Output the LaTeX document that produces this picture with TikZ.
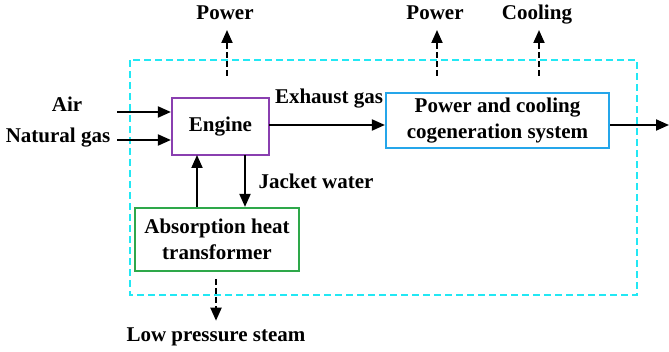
\documentclass[tikz,border=0pt]{standalone}
\usepackage{fontspec}
\setmainfont{Liberation Serif}
\usetikzlibrary{arrows.meta, positioning}
\definecolor{bndcyan}{HTML}{22E8F4}
\definecolor{engpurple}{HTML}{8A3FB0}
\definecolor{pccblue}{HTML}{25A6EA}
\definecolor{ahtgreen}{HTML}{2EA84A}
\tikzset{
  blk/.style={draw, line width=2.2pt, align=center, inner sep=0pt,
    font=\fontsize{21}{25.5}\selectfont\bfseries},
  lbl/.style={font=\fontsize{21}{25}\selectfont\bfseries, inner sep=0pt},
  flow/.style={-{Triangle[length=13pt, width=11pt]}, line width=2pt},
  prod/.style={flow, dash pattern=on 6pt off 3pt},
}

\begin{document}
\begin{tikzpicture}[x=1pt, y=-1pt]
  \useasboundingbox (0,0) rectangle (669,352);
  % system boundary
  \draw[bndcyan, line width=1.8pt, dash pattern=on 7pt off 4pt] (130,60) rectangle (637,295);
  % components
  \node[blk, draw=engpurple, minimum width=97pt, minimum height=57pt] (engine) at (220.5,126.5) {Engine};
  \node[blk, draw=pccblue, minimum width=223pt, minimum height=55pt] (pcc) at (497.5,120.5) {Power and cooling\\cogeneration system};
  \node[blk, draw=ahtgreen, minimum width=164pt, minimum height=63pt] (aht) at (217,239.5) {Absorption heat\\transformer};
  % fuel and air inputs
  \node[lbl] (air) at (67,104) {Air};
  \node[lbl] (ng) at (58,138) {Natural gas};
  \coordinate (airin) at (117,112);
  \coordinate (ngin) at (117,140);
  \draw[flow] (airin) -- (airin -| engine.west);
  \draw[flow] (ngin) -- (ngin -| engine.west);
  % exhaust gas to cogeneration system and outlet
  \coordinate (exh) at (269,125);
  \coordinate (outlet) at (669,125);
  \draw[flow] (exh) -- (exh -| pcc.west);
  \node[lbl] (exhlbl) at (329,99) {Exhaust gas};
  \draw[flow] (exh -| pcc.east) -- (outlet);
  % jacket water loop
  \coordinate (jwdown) at (245,155);
  \coordinate (jwup) at (197,155);
  \draw[flow] (jwdown) -- (jwdown |- aht.north);
  \draw[flow] (jwup |- aht.north) -- (jwup);
  \node[lbl] (jwlbl) at (316,181) {Jacket water};
  % products
  \node[lbl, anchor=base] (pw1) at (225,20) {Power};
  \node[lbl, anchor=base] (pw2) at (435,20) {Power};
  \node[lbl, anchor=base] (cool) at (537,20) {Cooling};
  \node[lbl] (lps) at (216,337) {Low pressure steam};
  \coordinate (pw1s) at (227,76);
  \coordinate (pw2s) at (437,76);
  \coordinate (cools) at (539,76);
  \coordinate (lpss) at (216,279);
  \draw[prod] (pw1s) -- (pw1s |- 0,30);
  \draw[prod] (pw2s) -- (pw2s |- 0,30);
  \draw[prod] (cools) -- (cools |- 0,30);
  \draw[prod] (lpss) -- ([yshift=7pt]lps.north);
\end{tikzpicture}
\end{document}
